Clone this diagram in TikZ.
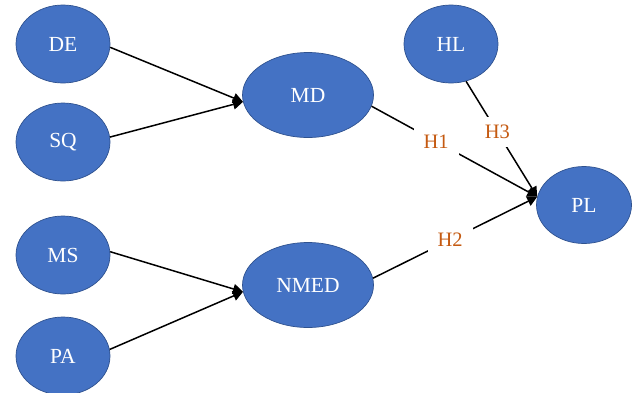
\documentclass[tikz,border=0pt]{standalone}
\usepackage{fontspec}
\setmainfont{Liberation Serif}
\usetikzlibrary{shapes.geometric,arrows.meta}
\definecolor{nodeblue}{RGB}{68,114,196}
\definecolor{nodeedge}{RGB}{47,82,143}
\definecolor{hyporange}{RGB}{197,90,17}
\tikzset{
  construct/.style={ellipse,fill=nodeblue,draw=nodeedge,line width=0.7pt,inner sep=0pt,
    text=white,font=\fontsize{21.5}{25}\selectfont},
  small/.style={construct,minimum width=94pt,minimum height=78pt},
  big/.style={construct,minimum width=131pt,minimum height=85pt},
  link/.style={draw=black,line width=1.5pt,-{Triangle[length=10pt,width=10pt]}},
  hyp/.style={fill=white,text=hyporange,inner xsep=10pt,inner ysep=8pt,font=\fontsize{20.5}{24}\selectfont}
}
\begin{document}
\begin{tikzpicture}[x=1pt,y=-1pt]
\useasboundingbox (0,0) rectangle (634,392);
\node[small] (DE) at (63,44) {DE};
\node[small] (SQ) at (63,142) {SQ};
\node[small] (MS) at (63,255) {MS};
\node[small] (PA) at (63,356) {PA};
\node[big] (MD) at (308,95) {MD};
\node[big] (NMED) at (308,285) {NMED};
\node[small] (HL) at (451,44) {HL};
\node[construct,minimum width=95pt,minimum height=77pt] (PL) at (584,205) {PL};

\draw[link] (DE.-4) -- (MD.186);
\draw[link] (SQ.6) -- (MD.186);
\draw[link] (MS.4) -- (NMED.186);
\draw[link] (PA.8) -- (NMED.186);
\draw[link] (MD.-10) -- node[hyp,pos=0.39] (H1) {H1} (PL.170);
\draw[link] (HL.-68) -- node[hyp,pos=0.44] (H3) {H3} (PL.170);
\draw[link] (NMED.6) -- node[hyp,pos=0.47] (H2) {H2} (PL.170);
\end{tikzpicture}
\end{document}
